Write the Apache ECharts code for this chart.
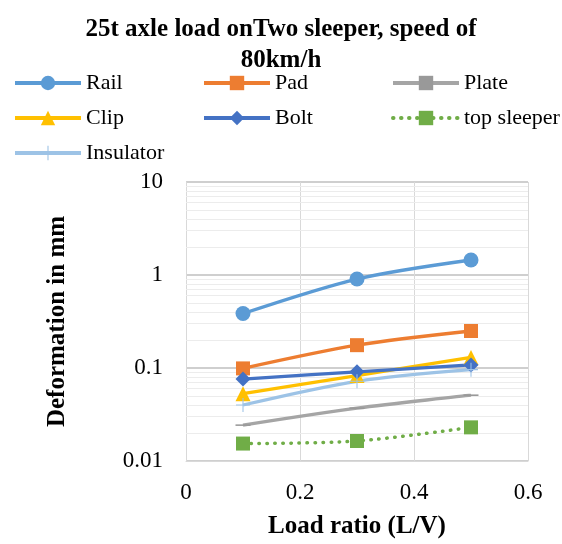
<!DOCTYPE html>
<html>
<head>
<meta charset="utf-8">
<script src="https://cdn.jsdelivr.net/npm/echarts@6/dist/echarts.min.js"></script>
<style>html,body{margin:0;padding:0;background:#fff;}#c{width:562px;height:544px;}</style>
</head>
<body>
<div id="c"></div>
<script>
var loadRatio = [0.1, 0.3, 0.5];
var rail = [0.385, 0.905, 1.45];
var pad = [0.099, 0.176, 0.25];
var plate = [0.0243, 0.037, 0.051];
var clip = [0.053, 0.083, 0.13];
var bolt = [0.076, 0.091, 0.108];
var topSleeper = [0.0154, 0.0164, 0.023];
var insulator = [0.040, 0.072, 0.096];
var xTicks = [0, 0.2, 0.4, 0.6];
var yTicks = [0.01, 0.1, 1, 10];
var minorGrid = [0.02,0.03,0.04,0.05,0.06,0.07,0.08,0.09,0.2,0.3,0.4,0.5,0.6,0.7,0.8,0.9,2,3,4,5,6,7,8,9];

function pts(arr){ return loadRatio.map(function(x,i){ return [x, arr[i]]; }); }

var FONT = 'Liberation Serif';
var plusPath = 'path://M9.25,0 L10.75,0 L10.75,9.25 L20,9.25 L20,10.75 L10.75,10.75 L10.75,20 L9.25,20 L9.25,10.75 L0,10.75 L0,9.25 L9.25,9.25 Z';
var dashPath = 'path://M0,0 L16,0 L16,5 L0,5 Z';

function line(name, data, color, symbol, size, extra){
  var s = {
    name: name, type: 'line', data: pts(data), smooth: 0.3,
    symbol: symbol, symbolSize: size,
    lineStyle: {color: color, width: 3.3},
    itemStyle: {color: color},
    z: 3
  };
  if (extra) for (var k in extra) s[k] = extra[k];
  return s;
}

var series = [
  line('Rail', rail, '#5B9BD5', 'circle', 15),
  line('Pad', pad, '#ED7D31', 'rect', 14),
  line('Plate', plate, '#A5A5A5', dashPath, [15, 5], {symbolKeepAspect: true, itemStyle: {color: '#999999'}}),
  line('Clip', clip, '#FFC000', 'triangle', 15),
  line('Bolt', bolt, '#4472C4', 'diamond', 15),
  line('top sleeper', topSleeper, '#70AD47', 'rect', 14, {lineStyle:{color:'#70AD47', width:3.5, type:[0.5,7.5], cap:'round'}}),
  line('Insulator', insulator, '#9DC3E6', plusPath, 14)
];
series[0].markLine = {
  silent: true, symbol: 'none', label: {show: false},
  lineStyle: {color: '#ececec', width: 1, type: 'solid'},
  animation: false, z: 1,
  data: minorGrid.map(function(v){ return {yAxis: v}; })
};

function lg(left, names){
  return {
    orient: 'vertical', itemWidth: 66, itemHeight: 18, itemGap: 13, padding: 0,
    left: left, top: 72, data: names,
    lineStyle: {width: 4},
    textStyle: {fontFamily: FONT, fontSize: 22, color: '#000', lineHeight: 22}
  };
}

var chart = echarts.init(document.getElementById('c'));
chart.setOption({
  animation: false,
  title: {
    text: '25t axle load onTwo sleeper, speed of\n80km/h',
    left: 'center', top: 9,
    textStyle: {fontFamily: FONT, fontSize: 25, fontWeight: 'bold', color: '#000', lineHeight: 31}
  },
  legend: [
    lg(13, ['Rail', 'Clip', 'Insulator']),
    lg(202, ['Pad', 'Bolt']),
    lg(391, ['Plate', 'top sleeper'])
  ],
  grid: {left: 186, right: 34, top: 182, bottom: 80, containLabel: false},
  xAxis: {
    type: 'value', min: 0, max: 0.6, interval: 0.2,
    name: 'Load ratio (L/V)', nameLocation: 'middle', nameGap: 53,
    nameTextStyle: {fontFamily: FONT, fontSize: 25, fontWeight: 'bold', color: '#000'},
    axisLine: {show: true, lineStyle: {color: '#d9d9d9', width: 1}},
    axisTick: {show: false},
    axisLabel: {fontFamily: FONT, fontSize: 23, color: '#000', margin: 20,
      formatter: function(v){ return xTicks.indexOf(+v.toFixed(2)) >= 0 ? String(+v.toFixed(2)) : ''; }},
    splitLine: {show: true, lineStyle: {color: '#d9d9d9', width: 1}}
  },
  yAxis: {
    type: 'log', logBase: 10, min: 0.01, max: 10,
    name: 'Deformation in mm', nameLocation: 'middle', nameGap: 116,
    nameTextStyle: {fontFamily: FONT, fontSize: 25, fontWeight: 'bold', color: '#000'},
    axisLine: {show: true, lineStyle: {color: '#d9d9d9', width: 1}},
    axisTick: {show: false},
    axisLabel: {fontFamily: FONT, fontSize: 23, color: '#000', margin: 23,
      formatter: function(v){ return String(+v); }},
    splitLine: {show: true, lineStyle: {color: '#bfbfbf', width: 1.5}}
  },
  series: series
});
</script>
</body>
</html>
